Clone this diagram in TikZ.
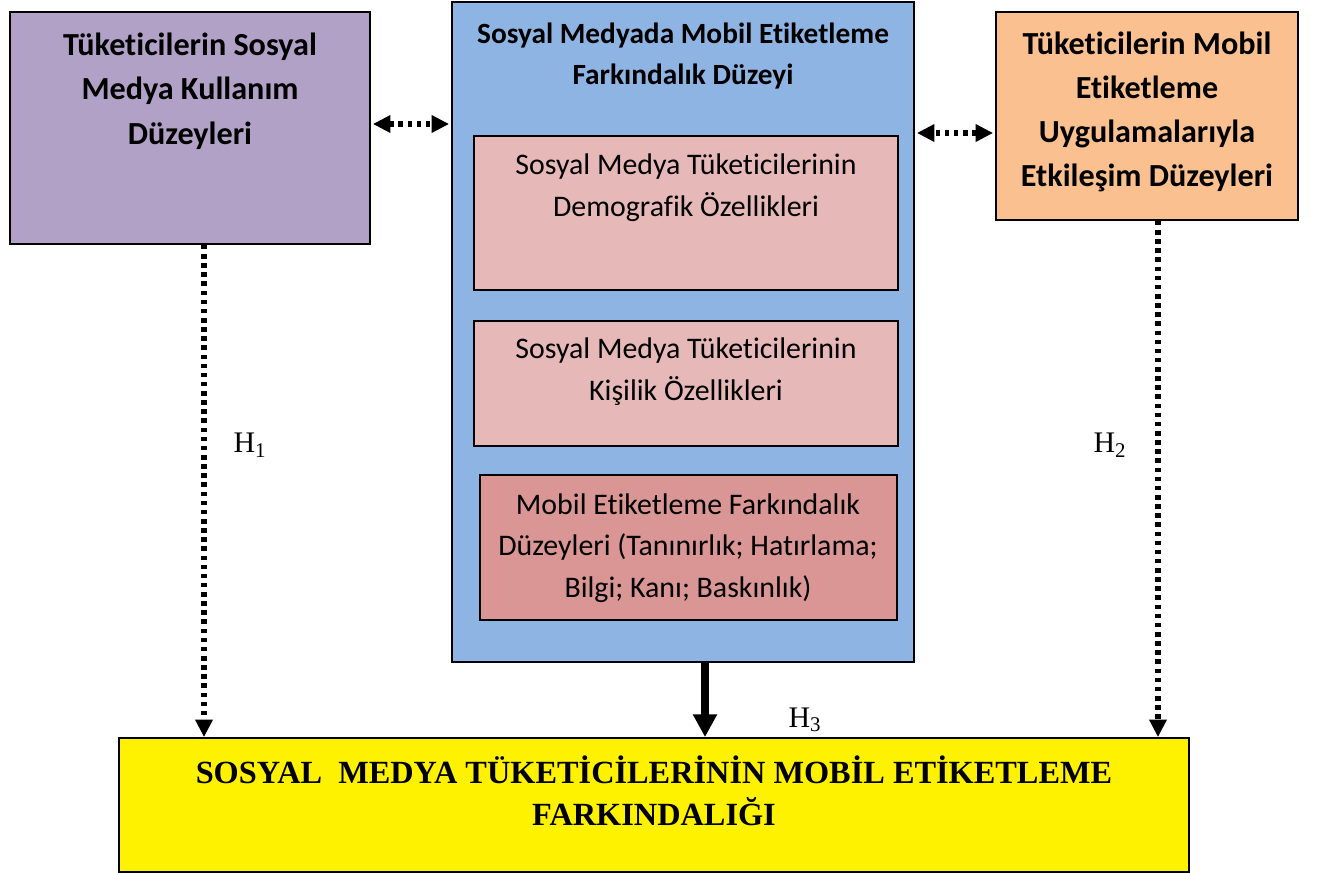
\documentclass[tikz,border=0pt]{standalone}
\usepackage{fontspec}
\setmainfont[Ligatures=NoCommon]{Carlito}
\newfontfamily\tnr{Liberation Serif}
\usetikzlibrary{arrows.meta,calc,fit,positioning}
\definecolor{purp}{HTML}{B2A1C7}
\definecolor{skyblue}{HTML}{8EB4E3}
\definecolor{peach}{HTML}{FAC090}
\definecolor{pinkbox}{HTML}{E6B9B8}
\definecolor{rosebox}{HTML}{D99694}

\begin{document}
\begin{tikzpicture}[x=0.02cm,y=-0.02cm,
  box/.style={draw,line width=1pt,inner sep=0pt},
  head/.style={align=center,font=\fontsize{18.3}{25.2}\selectfont\bfseries},
  body/.style={align=center,font=\fontsize{17}{24}\selectfont},
  dotlink/.style={line width=3pt,dash pattern=on 2.6pt off 2.6pt},
  dtip/.tip={Triangle[length=10pt,width=9.5pt]},
  hlab/.style={font=\tnr\fontsize{17}{20}\selectfont}]
  \useasboundingbox (0,0) rectangle (1335,872);
  % boxes
  \node[box,fill=purp,fit={(10,12) (370,244)}] (usage) {};
  \node[box,fill=skyblue,fit={(452,2) (914,662)}] (aware) {};
  \node[box,fill=peach,fit={(996,12) (1298,220)}] (interact) {};
  \node[box,fill=pinkbox,fit={(474,136) (898,290)}] (demo) {};
  \node[box,fill=pinkbox,fit={(474,321) (898,446)}] (person) {};
  \node[box,fill=rosebox,fit={(480,475) (897,620)}] (levels) {};
  \node[box,fill=yellow,fit={(119,738) (1189,872)}] (result) {};
  % texts
  \node[head] (usagetxt) at (190,91) {Tüketicilerin Sosyal\\Medya Kullanım\\Düzeyleri};
  \node[head,font=\fontsize{16.7}{23.8}\selectfont\bfseries] (awaretxt) at (683,56) {Sosyal Medyada Mobil Etiketleme\\Farkındalık Düzeyi};
  \node[head,font=\fontsize{18.3}{25}\selectfont\bfseries] (interacttxt) at (1147,112) {Tüketicilerin Mobil\\Etiketleme\\Uygulamalarıyla\\Etkileşim Düzeyleri};
  \node[body] (demotxt) at (686,188) {Sosyal Medya Tüketicilerinin\\Demografik Özellikleri};
  \node[body] (persontxt) at (686,372) {Sosyal Medya Tüketicilerinin\\Kişilik Özellikleri};
  \node[body,font=\fontsize{17}{23.5}\selectfont] (levelstxt) at (688,548) {Mobil Etiketleme Farkındalık\\Düzeyleri (Tanınırlık; Hatırlama;\\Bilgi; Kanı; Baskınlık)};
  \node[align=center,font=\tnr\fontsize{18.4}{23.8}\selectfont\bfseries] (resulttxt) at (654,791)
    {SOSYAL\ \ MEDYA TÜKETİCİLERİNİN MOBİL ETİKETLEME\\FARKINDALIĞI};
  % links
  \draw[dotlink,dtip-dtip] ($(usage.east)+(2,-4)$) -- ($(usage.east -| aware.west)+(-2,-4)$);
  \draw[dotlink,dtip-dtip] ($(interact.west)+(-2,17)$) -- ($(interact.west -| aware.east)+(2,17)$);
  \draw[dotlink,-dtip] ($(usage.south)+(14,0)$) coordinate (u1) -- (u1 |- result.north);
  \draw[dotlink,-dtip] ($(interact.south)+(11,0)$) coordinate (i1) -- (i1 |- result.north);
  \draw[line width=4.5pt,-{Triangle[length=13pt,width=13pt]}] ($(aware.south)+(22,0)$) coordinate (a1) -- (a1 |- result.north);
  \node[hlab] (h1) at (250,445) {H\textsubscript{1}};
  \node[hlab] (h2) at (1110,445) {H\textsubscript{2}};
  \node[hlab] (h3) at (805,720) {H\textsubscript{3}};
\end{tikzpicture}
\end{document}
